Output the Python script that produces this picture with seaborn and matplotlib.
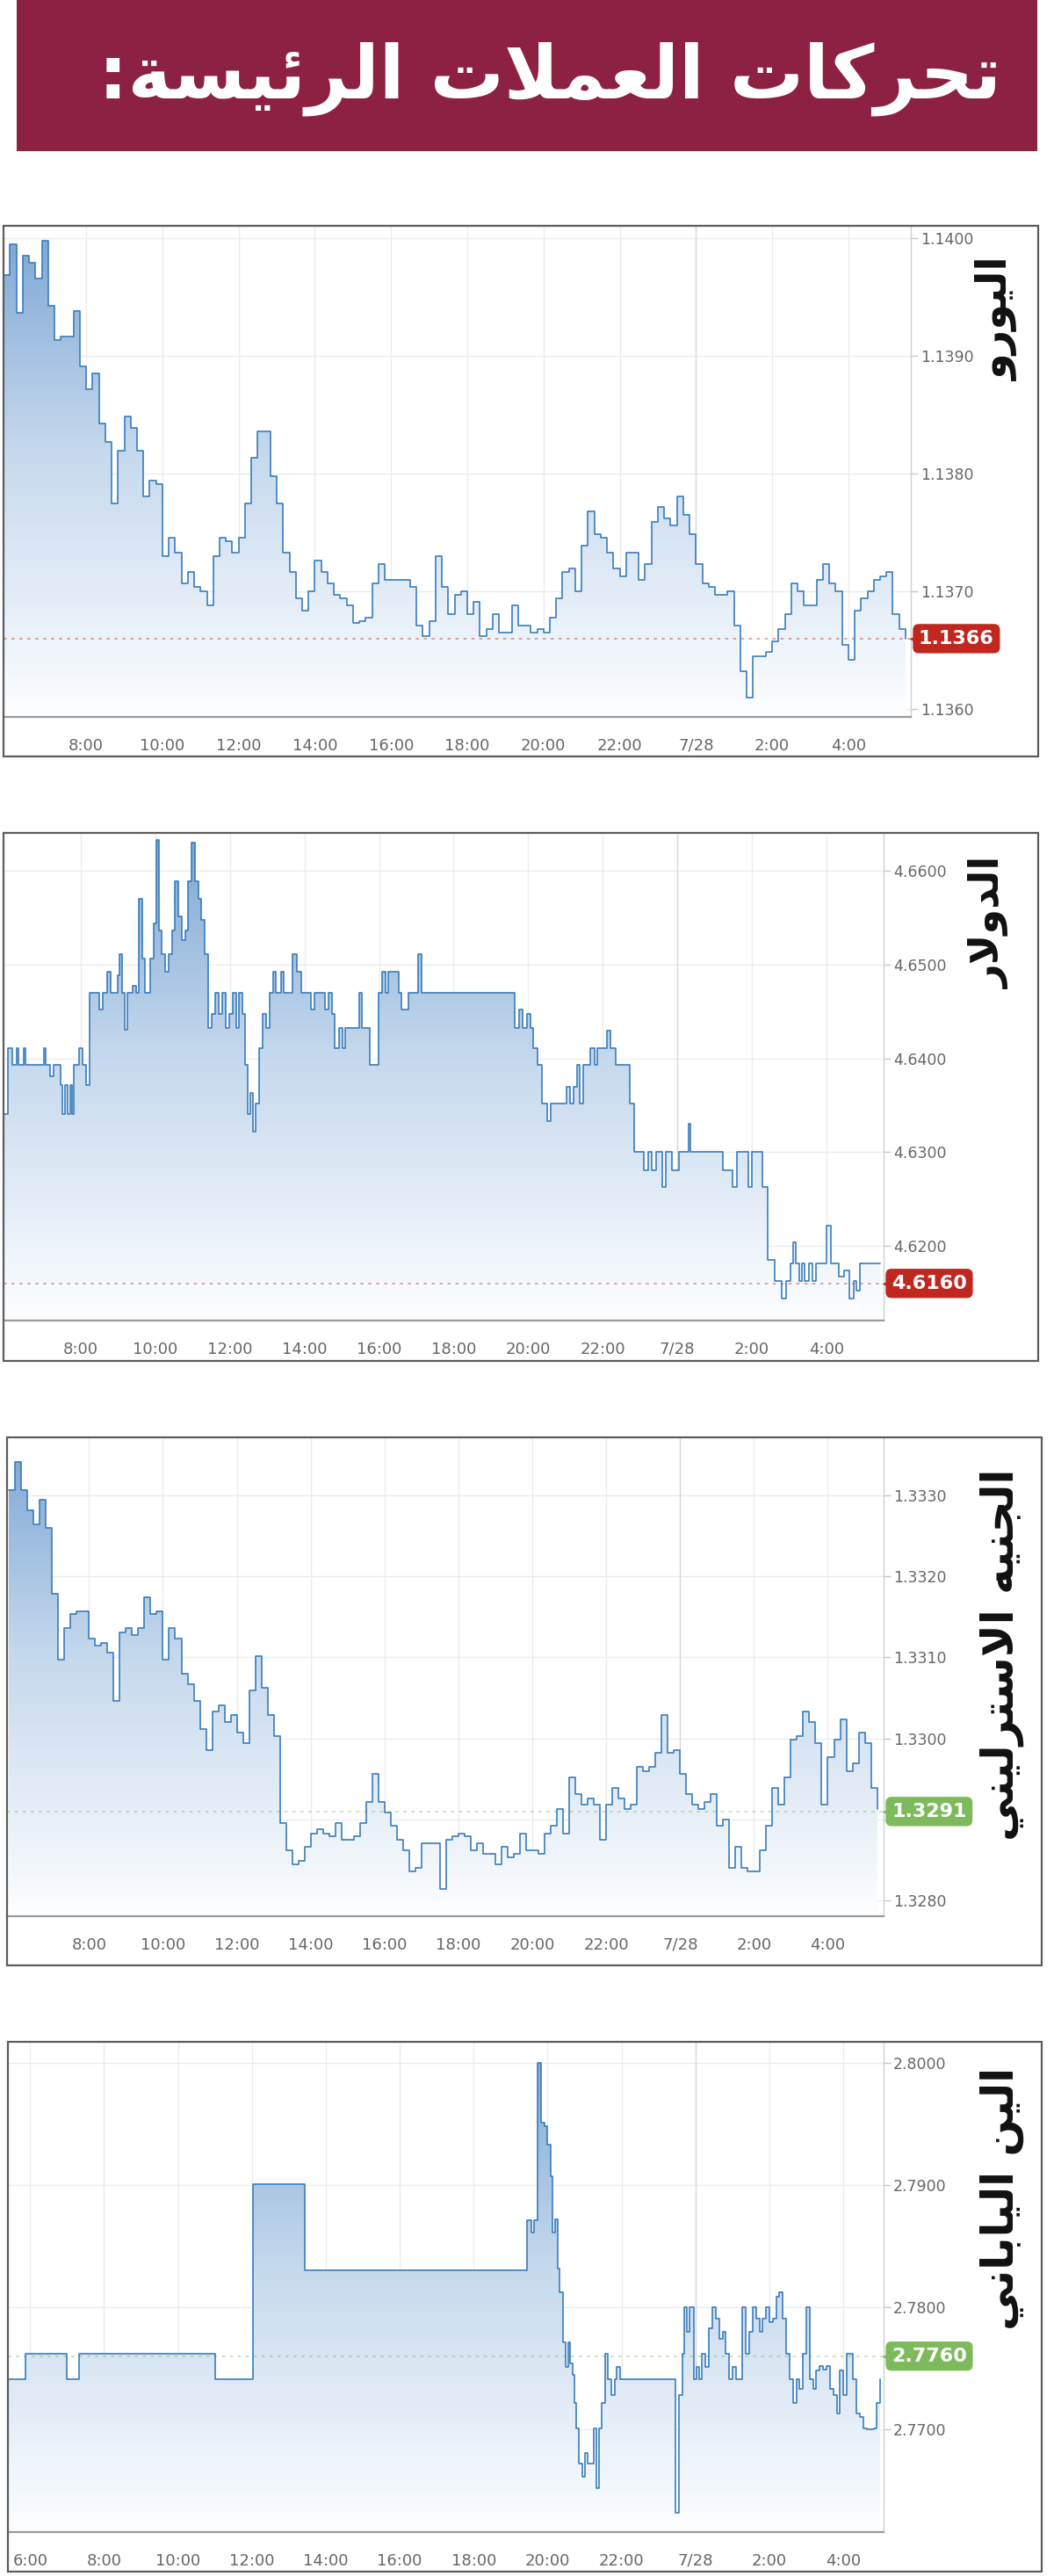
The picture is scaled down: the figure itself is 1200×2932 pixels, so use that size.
import numpy as np
import pandas as pd
import matplotlib
matplotlib.use('Agg')
import matplotlib.pyplot as plt
import seaborn as sns
from matplotlib.colors import LinearSegmentedColormap
from matplotlib.patches import Rectangle
from matplotlib.transforms import blended_transform_factory, ScaledTranslation

# ---- data (hours counted from 27 Jul 00:00) ----
TITLE = 'تحركات العملات الرئيسة:'
CURRENCIES = ['اليورو', 'الدولار', 'الجنيه الاسترليني', 'الين الياباني']
LAST_PRICE = [1.1366, 4.6160, 1.3291, 2.7760]

# euro: one quote every 10 minutes from 05:50
EUR_START = 5 + 50 / 60
EUR = [1.13969, 1.13995, 1.13937, 1.13985, 1.13979, 1.13966, 1.13998, 1.13943, 1.13914, 1.13917,
       1.13917, 1.13938, 1.13891, 1.13872, 1.13885, 1.13843, 1.13827, 1.13775, 1.13820, 1.13849,
       1.13839, 1.13820, 1.13781, 1.13794, 1.13791, 1.13730, 1.13746, 1.13733, 1.13707, 1.13717,
       1.13704, 1.13700, 1.13688, 1.13730, 1.13746, 1.13743, 1.13733, 1.13746, 1.13775, 1.13814,
       1.13836, 1.13836, 1.13798, 1.13775, 1.13733, 1.13717, 1.13694, 1.13684, 1.13700, 1.13726,
       1.13717, 1.13707, 1.13697, 1.13694, 1.13688, 1.13673, 1.13675, 1.13678, 1.13707, 1.13723,
       1.13710, 1.13710, 1.13710, 1.13710, 1.13704, 1.13671, 1.13662, 1.13675, 1.13730, 1.13704,
       1.13681, 1.13697, 1.13700, 1.13681, 1.13691, 1.13662, 1.13668, 1.13681, 1.13665, 1.13665,
       1.13688, 1.13671, 1.13671, 1.13665, 1.13668, 1.13665, 1.13678, 1.13694, 1.13717, 1.13720,
       1.13700, 1.13739, 1.13768, 1.13749, 1.13746, 1.13733, 1.13720, 1.13713, 1.13733, 1.13733,
       1.13710, 1.13723, 1.13759, 1.13772, 1.13762, 1.13756, 1.13781, 1.13765, 1.13749, 1.13723,
       1.13707, 1.13704, 1.13697, 1.13697, 1.13700, 1.13671, 1.13632, 1.13610, 1.13645, 1.13645,
       1.13649, 1.13658, 1.13668, 1.13681, 1.13707, 1.13700, 1.13688, 1.13688, 1.13710, 1.13723,
       1.13707, 1.13700, 1.13655, 1.13642, 1.13684, 1.13694, 1.13700, 1.13710, 1.13713, 1.13717,
       1.13681, 1.13668, 1.13660]

# dollar: price changes (time, new level)
USD_HOURS = [5.93, 6.05, 6.16, 6.29, 6.34, 6.47, 6.52, 7.01, 7.06, 7.19,
             7.28, 7.46, 7.51, 7.59, 7.64, 7.71, 7.77, 7.82, 7.96, 8.04,
             8.14, 8.23, 8.50, 8.58, 8.72, 8.81, 8.99, 9.05, 9.12, 9.19,
             9.26, 9.39, 9.48, 9.55, 9.64, 9.73, 9.87, 9.95, 10.02, 10.09,
             10.18, 10.27, 10.36, 10.45, 10.52, 10.61, 10.70, 10.81, 10.88, 10.97,
             11.06, 11.15, 11.24, 11.33, 11.42, 11.51, 11.60, 11.71, 11.80, 11.89,
             11.98, 12.07, 12.16, 12.25, 12.34, 12.41, 12.47, 12.54, 12.61, 12.70,
             12.79, 12.88, 12.97, 13.06, 13.15, 13.23, 13.37, 13.44, 13.68, 13.80,
             13.91, 14.18, 14.27, 14.56, 14.65, 14.74, 14.81, 14.92, 15.01, 15.10,
             15.46, 15.53, 15.75, 15.98, 16.07, 16.18, 16.25, 16.54, 16.61, 16.79,
             17.04, 17.15, 19.64, 19.75, 19.86, 19.96, 20.05, 20.14, 20.25, 20.36,
             20.52, 20.61, 21.03, 21.12, 21.21, 21.30, 21.39, 21.48, 21.66, 21.77,
             21.84, 22.11, 22.20, 22.34, 22.72, 22.85, 23.10, 23.21, 23.32, 23.42,
             23.60, 23.68, 23.86, 24.04, 24.29, 24.36, 25.22, 25.48, 25.59, 25.91,
             26.00, 26.27, 26.41, 26.61, 26.79, 26.92, 27.03, 27.10, 27.17, 27.26,
             27.35, 27.42, 27.53, 27.62, 27.71, 28.00, 28.11, 28.32, 28.47, 28.61,
             28.72, 28.81, 28.90, 29.44]
USD = [4.6341, 4.6411, 4.6393, 4.6411, 4.6393, 4.6411, 4.6393, 4.6411, 4.6393, 4.6381,
       4.6393, 4.6372, 4.6341, 4.6372, 4.6341, 4.6372, 4.6341, 4.6393, 4.6411, 4.6393,
       4.6372, 4.6470, 4.6452, 4.6470, 4.6493, 4.6470, 4.6489, 4.6511, 4.6470, 4.6431,
       4.6470, 4.6478, 4.6470, 4.6570, 4.6507, 4.6470, 4.6507, 4.6544, 4.6633, 4.6537,
       4.6511, 4.6493, 4.6511, 4.6537, 4.6589, 4.6552, 4.6526, 4.6537, 4.6589, 4.6630,
       4.6589, 4.6570, 4.6548, 4.6511, 4.6433, 4.6448, 4.6470, 4.6448, 4.6470, 4.6433,
       4.6448, 4.6470, 4.6433, 4.6470, 4.6448, 4.6393, 4.6341, 4.6363, 4.6322, 4.6352,
       4.6411, 4.6448, 4.6433, 4.6470, 4.6493, 4.6470, 4.6493, 4.6470, 4.6511, 4.6493,
       4.6470, 4.6452, 4.6470, 4.6452, 4.6470, 4.6448, 4.6411, 4.6433, 4.6411, 4.6433,
       4.6470, 4.6433, 4.6393, 4.6470, 4.6493, 4.6470, 4.6493, 4.6470, 4.6452, 4.6470,
       4.6511, 4.6470, 4.6433, 4.6452, 4.6433, 4.6448, 4.6433, 4.6411, 4.6393, 4.6352,
       4.6333, 4.6352, 4.6370, 4.6352, 4.6370, 4.6393, 4.6352, 4.6393, 4.6411, 4.6393,
       4.6411, 4.6430, 4.6411, 4.6393, 4.6352, 4.6300, 4.6281, 4.6300, 4.6281, 4.6300,
       4.6263, 4.6300, 4.6281, 4.6300, 4.6330, 4.6300, 4.6281, 4.6263, 4.6300, 4.6263,
       4.6300, 4.6263, 4.6185, 4.6163, 4.6144, 4.6163, 4.6181, 4.6204, 4.6181, 4.6163,
       4.6181, 4.6163, 4.6181, 4.6163, 4.6181, 4.6222, 4.6181, 4.6167, 4.6174, 4.6144,
       4.6163, 4.6152, 4.6181, 4.6181]

# sterling: one quote every 10 minutes from 05:50
GBP_START = 5 + 50 / 60
GBP = [1.33306, 1.33341, 1.33306, 1.33281, 1.33264, 1.33294, 1.33259, 1.33178, 1.33097, 1.33136,
       1.33153, 1.33157, 1.33157, 1.33123, 1.33114, 1.33118, 1.33106, 1.33046, 1.33131, 1.33136,
       1.33127, 1.33136, 1.33174, 1.33153, 1.33157, 1.33097, 1.33136, 1.33123, 1.33080, 1.33067,
       1.33046, 1.33012, 1.32986, 1.33033, 1.33041, 1.33020, 1.33029, 1.33007, 1.32994, 1.33059,
       1.33101, 1.33063, 1.33029, 1.33003, 1.32896, 1.32862, 1.32845, 1.32849, 1.32866, 1.32883,
       1.32888, 1.32883, 1.32879, 1.32896, 1.32875, 1.32875, 1.32879, 1.32896, 1.32922, 1.32956,
       1.32922, 1.32909, 1.32892, 1.32875, 1.32862, 1.32836, 1.32841, 1.32871, 1.32871, 1.32871,
       1.32815, 1.32875, 1.32879, 1.32883, 1.32879, 1.32862, 1.32871, 1.32858, 1.32858, 1.32845,
       1.32866, 1.32853, 1.32858, 1.32883, 1.32862, 1.32862, 1.32858, 1.32883, 1.32892, 1.32913,
       1.32883, 1.32952, 1.32931, 1.32918, 1.32926, 1.32918, 1.32875, 1.32918, 1.32939, 1.32926,
       1.32913, 1.32918, 1.32965, 1.32960, 1.32965, 1.32982, 1.33029, 1.32982, 1.32986, 1.32956,
       1.32931, 1.32918, 1.32913, 1.32922, 1.32931, 1.32892, 1.32900, 1.32841, 1.32866, 1.32841,
       1.32836, 1.32836, 1.32862, 1.32892, 1.32939, 1.32918, 1.32952, 1.32999, 1.33003, 1.33033,
       1.33020, 1.32994, 1.32918, 1.32977, 1.32999, 1.33024, 1.32960, 1.32969, 1.33007, 1.32994,
       1.32939, 1.32913]

# yen: price changes (time, new level)
JPY_HOURS = [5.40, 5.87, 7.00, 7.33, 11.00, 12.02, 13.42, 19.45, 19.55, 19.64,
             19.73, 19.82, 19.91, 20.00, 20.09, 20.13, 20.20, 20.27, 20.33, 20.42,
             20.49, 20.55, 20.60, 20.67, 20.73, 20.78, 20.85, 20.93, 21.00, 21.09,
             21.25, 21.33, 21.40, 21.47, 21.55, 21.64, 21.73, 21.82, 21.87, 21.95,
             23.47, 23.55, 23.64, 23.69, 23.76, 23.85, 23.95, 24.02, 24.09, 24.18,
             24.27, 24.36, 24.45, 24.55, 24.64, 24.73, 24.82, 24.91, 25.00, 25.09,
             25.27, 25.36, 25.45, 25.55, 25.64, 25.73, 25.82, 25.91, 26.00, 26.09,
             26.18, 26.27, 26.36, 26.45, 26.55, 26.64, 26.73, 26.82, 26.91, 27.00,
             27.09, 27.18, 27.27, 27.36, 27.45, 27.55, 27.64, 27.73, 27.82, 27.91,
             28.00, 28.09, 28.27, 28.36, 28.45, 28.55, 28.64, 28.82, 28.91, 29.00]
JPY = [2.7741, 2.7762, 2.7741, 2.7762, 2.7741, 2.7901, 2.7830, 2.7871, 2.7861, 2.7871,
       2.8000, 2.7951, 2.7948, 2.7933, 2.7907, 2.7861, 2.7872, 2.7832, 2.7812, 2.7771,
       2.7751, 2.7771, 2.7754, 2.7745, 2.7722, 2.7701, 2.7672, 2.7661, 2.7681, 2.7672,
       2.7701, 2.7652, 2.7701, 2.7722, 2.7762, 2.7741, 2.7728, 2.7741, 2.7751, 2.7741,
       2.7632, 2.7728, 2.7762, 2.7800, 2.7780, 2.7800, 2.7741, 2.7751, 2.7741, 2.7762,
       2.7751, 2.7783, 2.7800, 2.7791, 2.7774, 2.7780, 2.7762, 2.7741, 2.7751, 2.7741,
       2.7800, 2.7762, 2.7780, 2.7800, 2.7791, 2.7780, 2.7791, 2.7800, 2.7788, 2.7791,
       2.7809, 2.7812, 2.7791, 2.7762, 2.7741, 2.7722, 2.7741, 2.7733, 2.7762, 2.7800,
       2.7741, 2.7733, 2.7748, 2.7752, 2.7749, 2.7752, 2.7733, 2.7728, 2.7713, 2.7748,
       2.7728, 2.7762, 2.7741, 2.7713, 2.7710, 2.7701, 2.7700, 2.7701, 2.7722, 2.7741]

HOUR_TICKS = [8, 10, 12, 14, 16, 18, 20, 22, 24, 26, 28]
HOUR_LABELS = ['8:00', '10:00', '12:00', '14:00', '16:00', '18:00', '20:00', '22:00', '7/28', '2:00', '4:00']
JPY_HOUR_TICKS = [6] + HOUR_TICKS
JPY_HOUR_LABELS = ['6:00'] + HOUR_LABELS

EUR_TICKS = [1.1360, 1.1370, 1.1380, 1.1390, 1.1400]
EUR_TICK_LABELS = ['1.1360', '1.1370', '1.1380', '1.1390', '1.1400']
USD_TICKS = [4.6200, 4.6300, 4.6400, 4.6500, 4.6600]
USD_TICK_LABELS = ['4.6200', '4.6300', '4.6400', '4.6500', '4.6600']
GBP_TICKS = [1.3280, 1.3290, 1.3300, 1.3310, 1.3320, 1.3330]
GBP_TICK_LABELS = ['1.3280', '', '1.3300', '1.3310', '1.3320', '1.3330']  # 1.3290 sits under the price tag
JPY_TICKS = [2.7700, 2.7800, 2.7900, 2.8000]
JPY_TICK_LABELS = ['2.7700', '2.7800', '2.7900', '2.8000']

# ---- Arabic shaping (matplotlib draws letters unjoined, left to right) ----
FORMS = {
    'ا': ('\uFE8D', '\uFE8E', None, None), 'ب': ('\uFE8F', '\uFE90', '\uFE91', '\uFE92'),
    'ة': ('\uFE93', '\uFE94', None, None), 'ت': ('\uFE95', '\uFE96', '\uFE97', '\uFE98'),
    'ج': ('\uFE9D', '\uFE9E', '\uFE9F', '\uFEA0'), 'ح': ('\uFEA1', '\uFEA2', '\uFEA3', '\uFEA4'),
    'د': ('\uFEA9', '\uFEAA', None, None), 'ر': ('\uFEAD', '\uFEAE', None, None),
    'س': ('\uFEB1', '\uFEB2', '\uFEB3', '\uFEB4'), 'ع': ('\uFEC9', '\uFECA', '\uFECB', '\uFECC'),
    'ك': ('\uFED9', '\uFEDA', '\uFEDB', '\uFEDC'), 'ل': ('\uFEDD', '\uFEDE', '\uFEDF', '\uFEE0'),
    'م': ('\uFEE1', '\uFEE2', '\uFEE3', '\uFEE4'), 'ن': ('\uFEE5', '\uFEE6', '\uFEE7', '\uFEE8'),
    'ه': ('\uFEE9', '\uFEEA', '\uFEEB', '\uFEEC'), 'و': ('\uFEED', '\uFEEE', None, None),
    'ي': ('\uFEF1', '\uFEF2', '\uFEF3', '\uFEF4'), 'ئ': ('\uFE89', '\uFE8A', '\uFE8B', '\uFE8C'),
    'لا': ('\uFEFB', '\uFEFC', None, None),
}


def shape(text):
    tokens, i = [], 0
    while i < len(text):
        if text[i] == 'ل' and text[i + 1:i + 2] == 'ا':
            tokens.append('لا')
            i += 2
        else:
            tokens.append(text[i])
            i += 1
    out = []
    for j, t in enumerate(tokens):
        if t not in FORMS:
            out.append(t)
            continue
        prev = tokens[j - 1] if j > 0 else None
        nxt = tokens[j + 1] if j + 1 < len(tokens) else None
        jp = prev in FORMS and FORMS[prev][2] is not None
        jn = FORMS[t][2] is not None and nxt in FORMS
        out.append(FORMS[t][3] if jp and jn else FORMS[t][1] if jp else FORMS[t][2] if jn else FORMS[t][0])
    return ''.join(reversed(out))


# ---- layout (pixel boxes in the 1200 x 2932 image) ----
W, H = 1200, 2932
PANELS = [
    dict(frame=(4, 257, 1182, 861), plot=(4, 257, 1037, 816), xlim=(5.83, 29.64), ylim=(1.135935, 1.140107),
         label_xy=(1136, 363), label_len=141, badge='#c0281f'),
    dict(frame=(4, 948, 1182, 1549), plot=(4, 948, 1006, 1503), xlim=(5.93, 29.53), ylim=(4.61204, 4.66407),
         label_xy=(1127, 1050), label_len=150, badge='#c0281f'),
    dict(frame=(8, 1636, 1186, 2237), plot=(8, 1636, 1006, 2181), xlim=(5.78, 29.51), ylim=(1.32781, 1.33371),
         label_xy=(1141, 1883), label_len=423, badge='#7dba5b'),
    dict(frame=(9, 2324, 1186, 2927), plot=(9, 2324, 1006, 2882), xlim=(5.40, 29.09), ylim=(2.76159, 2.80174),
         label_xy=(1141, 2502), label_len=299, badge='#7dba5b'),
]

LINE = '#3a7dbb'
FILL = LinearSegmentedColormap.from_list('fill', [(0, '#fdfeff'), (0.55, '#c4d8ed'), (1, '#7da6d3')])
GRAD = np.linspace(0, 1, 256).reshape(-1, 1)

sns.set_theme(style='white')
plt.rcParams['font.family'] = ['Liberation Sans Narrow', 'DejaVu Sans']

fig = plt.figure(figsize=(W / 100, H / 100), dpi=100, facecolor='white')


def fig_box(x0, y0, x1, y1):
    return (x0 / W, 1 - y1 / H, (x1 - x0) / W, (y1 - y0) / H)


def draw_panel(spec, hours, values, yticks, ylabels, xticks, xlabels, last):
    ax = fig.add_axes(fig_box(*spec['plot']))
    df = pd.DataFrame({'hour': hours, 'rate': values})
    x0, x1 = spec['xlim']
    y0, y1 = spec['ylim']

    poly = ax.fill_between(df['hour'], df['rate'], y0, step='post', facecolor='none', edgecolor='none')
    img = ax.imshow(GRAD, extent=[x0, x1, y0, y1], origin='lower', aspect='auto', cmap=FILL,
                    interpolation='bilinear', zorder=1)
    img.set_clip_path(poly.get_paths()[0], poly.get_transform())
    sns.lineplot(data=df, x='hour', y='rate', ax=ax, drawstyle='steps-post', color=LINE,
                 lw=1.2, estimator=None, sort=False, zorder=3)

    ax.set_xlim(x0, x1)
    ax.set_ylim(y0, y1)
    ax.set_xlabel('')
    ax.set_ylabel('')
    ax.set_xticks(xticks)
    ax.set_xticklabels(xlabels)
    ax.set_yticks(yticks)
    ax.set_yticklabels(ylabels)
    ax.yaxis.tick_right()
    ax.tick_params(axis='x', length=9, width=1, color='#c8c8c8', pad=8, labelsize=13, labelcolor='#666666')
    ax.tick_params(axis='y', length=6, width=1, color='#c8c8c8', pad=2, labelsize=12.5, labelcolor='#666666')
    ax.set_axisbelow(True)
    ax.grid(True, color='#ececec', lw=1.0)
    ax.axvline(24, color='#d9d9d9', lw=1.0, zorder=0.8)
    for side in ('top', 'left'):
        ax.spines[side].set_visible(False)
    ax.spines['bottom'].set_color('#9a9a9a')
    ax.spines['bottom'].set_linewidth(1.6)
    ax.spines['right'].set_color('#d0d0d0')
    ax.spines['right'].set_linewidth(1.0)
    ax.set_facecolor('white')

    # last price marker
    ax.axhline(last, color=spec['badge'], alpha=0.45, lw=1.3, ls=(0, (2, 3)), zorder=2)
    trans = blended_transform_factory(ax.transAxes, ax.transData)
    ax.annotate(f'{last:.4f}', xy=(1, last), xycoords=trans, xytext=(9, 0), textcoords='offset pixels',
                ha='left', va='center', color='white', fontsize=16, fontweight='bold',
                bbox=dict(boxstyle='round,pad=0.3,rounding_size=0.3', fc=spec['badge'], ec='none'),
                zorder=10, annotation_clip=False)
    ax.plot([1.0], [last], marker='<', ms=13, color=spec['badge'], mec='none', clip_on=False, zorder=9,
            transform=trans + ScaledTranslation(5 / 72, 0, fig.dpi_scale_trans))
    return ax


series = [
    (EUR_START + np.arange(len(EUR)) / 6, EUR, EUR_TICKS, EUR_TICK_LABELS, HOUR_TICKS, HOUR_LABELS),
    (USD_HOURS, USD, USD_TICKS, USD_TICK_LABELS, HOUR_TICKS, HOUR_LABELS),
    (GBP_START + np.arange(len(GBP)) / 6, GBP, GBP_TICKS, GBP_TICK_LABELS, HOUR_TICKS, HOUR_LABELS),
    (JPY_HOURS, JPY, JPY_TICKS, JPY_TICK_LABELS, JPY_HOUR_TICKS, JPY_HOUR_LABELS),
]

for spec, (hrs, vals, yt, yl, xt, xl), last in zip(PANELS, series, LAST_PRICE):
    draw_panel(spec, hrs, vals, yt, yl, xt, xl, last)
    fx0, fy0, fx1, fy1 = spec['frame']
    fig.add_artist(Rectangle((fx0 / W, 1 - fy1 / H), (fx1 - fx0) / W, (fy1 - fy0) / H,
                             transform=fig.transFigure, fill=False, ec='#5c5c5c', lw=1.6, zorder=20))

# title banner
fig.add_artist(Rectangle((19 / W, 1 - 172 / H), 1162 / W, 172 / H, transform=fig.transFigure,
                         fc='#8c2142', ec='none', zorder=0))
title = fig.text(626 / W, 1 - 90 / H, shape(TITLE), color='white', fontsize=60, fontweight='bold',
                 family='DejaVu Sans', ha='center', va='center')

labels = []
for spec, name in zip(PANELS, CURRENCIES):
    cx, cy = spec['label_xy']
    labels.append(fig.text(cx / W, 1 - cy / H, shape(name), rotation=90, color='#111111', fontsize=30,
                           fontweight='bold', family='DejaVu Sans', ha='center', va='center'))

# fit the Arabic texts to the extents seen in the reference
fig.canvas.draw()
renderer = fig.canvas.get_renderer()
bb = title.get_window_extent(renderer)
title.set_fontsize(title.get_fontsize() * 1028 / bb.width)
for t, spec in zip(labels, PANELS):
    bb = t.get_window_extent(renderer)
    t.set_fontsize(t.get_fontsize() * spec['label_len'] / bb.height)

fig.savefig('out.png', dpi=100, facecolor='white')
